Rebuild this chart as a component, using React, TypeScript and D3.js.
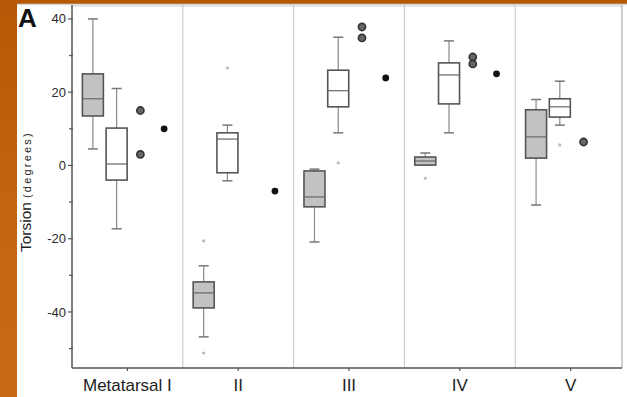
import React from "react";
import * as d3 from "d3";

const categories = ["Metatarsal I", "II", "III", "IV", "V"];

// grey (filled) boxes
const grayLow = [4.5, -46.8, -20.9, 0.1, -10.8];
const grayQ1 = [13.5, -38.9, -11.3, 0.1, 2];
const grayMed = [18.2, -34.8, -8.6, 1.2, 7.8];
const grayQ3 = [25, -31.8, -1.5, 2.3, 15.2];
const grayHigh = [40, -27.4, -1, 3.4, 18];

// white (open) boxes
const whiteLow = [-17.3, -4.2, 8.9, 8.9, 11];
const whiteQ1 = [-4, -2, 16, 16.8, 13.2];
const whiteMed = [0.4, 7.2, 20.4, 24.7, 16];
const whiteQ3 = [10.2, 8.9, 26, 28, 18.2];
const whiteHigh = [21, 11, 35, 34, 23];

// faint individual points
const grayFaint = [[], [-20.6, -51.2], [], [-3.5], []];
const whiteFaint = [[], [26.6], [0.7], [], [5.6]];

// dark outlier markers
const outliers = [[15, 3], [], [37.8, 34.8], [29.6, 27.7], [6.4]];
// black dots
const means = [10, -7, 23.9, 25, null];

const yMajor = [40, 20, 0, -20, -40];
const yMinor = [30, 10, -10, -30, -50];

export default function App() {
  const W = 627, H = 397;
  const left = 72, right = 622, top = 5, bottom = 368;
  const y = d3.scaleLinear().domain([-55.3, 43.8]).range([bottom, top]);
  const x = d3.scaleBand().domain(categories).range([left, 626]);
  const sub = d3.scaleBand().domain(["gray", "white", "outlier", "mean"]).range([9, 104]);
  const c = (i: number, k: string) => (x(categories[i]) as number) + (sub(k) as number) + sub.bandwidth() / 2;
  const bw = 21;
  const font = "Liberation Sans, Arial, sans-serif";

  const box = (i: number, k: string, lo: number, q1: number, md: number, q3: number, hi: number, fill: string) => {
    const cx = c(i, k);
    return (
      <g key={k + i}>
        <line x1={cx} x2={cx} y1={y(hi)} y2={y(q3)} stroke="#8a8a8a" strokeWidth={1.2} />
        <line x1={cx} x2={cx} y1={y(q1)} y2={y(lo)} stroke="#8a8a8a" strokeWidth={1.2} />
        <line x1={cx - 5} x2={cx + 5} y1={y(hi)} y2={y(hi)} stroke="#777" strokeWidth={1.5} />
        <line x1={cx - 5} x2={cx + 5} y1={y(lo)} y2={y(lo)} stroke="#777" strokeWidth={1.5} />
        <rect x={cx - bw / 2} y={y(q3)} width={bw} height={Math.max(1.5, y(q1) - y(q3))} fill={fill} stroke="#555" strokeWidth={1.6} />
        <line x1={cx - bw / 2} x2={cx + bw / 2} y1={y(md)} y2={y(md)} stroke="#666" strokeWidth={1.2} />
      </g>
    );
  };

  return (
    <svg width={W} height={H} style={{ position: "absolute", left: 0, top: 0 }}>
      <defs>
        <linearGradient id="bg" x1="0" y1="0" x2="0" y2="1">
          <stop offset="0" stopColor="#b85806" />
          <stop offset="0.5" stopColor="#c4640e" />
          <stop offset="1" stopColor="#c86a14" />
        </linearGradient>
      </defs>
      <rect x={0} y={0} width={W} height={H} fill="url(#bg)" />
      <rect x={17} y={4} width={W - 17} height={H - 4} fill="#ffffff" />
      <line x1={17} x2={W} y1={4.5} y2={4.5} stroke="#d8d8d8" strokeWidth={1.5} />

      {/* frame */}
      <line x1={left} x2={right} y1={top + 1} y2={top + 1} stroke="#cfcfcf" strokeWidth={1} />
      <line x1={right} x2={right} y1={top} y2={bottom} stroke="#bdbdbd" strokeWidth={1.5} />
      {categories.slice(1).map((cat) => (
        <line key={cat} x1={x(cat)} x2={x(cat)} y1={top} y2={bottom} stroke="#c4c4c4" strokeWidth={1} />
      ))}

      {/* axes */}
      <line x1={left} x2={left} y1={top} y2={bottom} stroke="#555" strokeWidth={1.5} />
      <line x1={left} x2={right} y1={bottom} y2={bottom} stroke="#555" strokeWidth={1.5} />
      {yMajor.map((v) => (
        <g key={v}>
          <line x1={left - 4} x2={left + 1} y1={y(v)} y2={y(v)} stroke="#555" strokeWidth={1.2} />
          <text x={66} y={y(v)} dy="0.35em" textAnchor="end" fontFamily={font} fontSize={13} fill="#2a2a2a">{v}</text>
        </g>
      ))}
      {yMinor.map((v) => (
        <line key={v} x1={left - 3} x2={left + 1} y1={y(v)} y2={y(v)} stroke="#555" strokeWidth={1.2} />
      ))}
      {categories.map((cat) => (
        <g key={cat}>
          <line x1={(x(cat) as number) + x.bandwidth() / 2} x2={(x(cat) as number) + x.bandwidth() / 2} y1={bottom} y2={bottom + 3} stroke="#555" strokeWidth={1.2} />
          <text x={(x(cat) as number) + x.bandwidth() / 2} y={391} textAnchor="middle" fontFamily={font} fontSize={17} fill="#222">{cat}</text>
        </g>
      ))}

      {/* boxes */}
      {categories.map((_, i) => box(i, "gray", grayLow[i], grayQ1[i], grayMed[i], grayQ3[i], grayHigh[i], "#c2c2c2"))}
      {categories.map((_, i) => box(i, "white", whiteLow[i], whiteQ1[i], whiteMed[i], whiteQ3[i], whiteHigh[i], "#ffffff"))}

      {/* faint points */}
      {grayFaint.map((arr, i) => arr.map((v, j) => (
        <circle key={"gf" + i + j} cx={c(i, "gray")} cy={y(v)} r={1.6} fill="#bbb" />
      )))}
      {whiteFaint.map((arr, i) => arr.map((v, j) => (
        <circle key={"wf" + i + j} cx={c(i, "white")} cy={y(v)} r={1.6} fill="#bbb" />
      )))}

      {/* outliers */}
      {outliers.map((arr, i) => arr.map((v, j) => (
        <circle key={"o" + i + j} cx={c(i, "outlier")} cy={y(v)} r={3.6} fill="#666" stroke="#333" strokeWidth={1.6} />
      )))}
      {means.map((v, i) => v === null ? null : (
        <circle key={"m" + i} cx={c(i, "mean")} cy={y(v)} r={3.4} fill="#111" />
      ))}

      {/* labels */}
      <text x={18} y={27} fontFamily={font} fontWeight="bold" fontSize={26} fill="#111">A</text>
      <text transform="translate(31,252) rotate(-90)" fontFamily={font} fill="#222">
        <tspan fontSize={15.5}>Torsion</tspan>
        <tspan fontSize={11} dx={4} letterSpacing={2.2}>(degrees)</tspan>
      </text>
    </svg>
  );
}
